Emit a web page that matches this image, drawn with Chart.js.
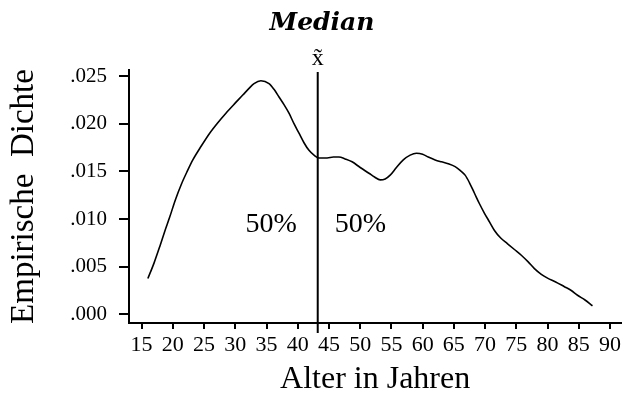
<!DOCTYPE html>
<html>
<head>
<meta charset="utf-8">
<script src="https://cdn.jsdelivr.net/npm/chart.js@4.4.1/dist/chart.umd.min.js"></script>
<style>
    html, body { margin: 0; padding: 0; background: #fff; }
</style>
</head>
<body>
<canvas id="chart" width="624" height="401"></canvas>
<script>
// Kernel density of age
const ages = [16.0, 17.0, 17.9, 18.7, 19.5, 20.4, 21.4, 22.3, 23.2, 24.5, 25.9, 27.2, 28.5, 29.9,
    31.2, 32.2, 33.0, 34.1, 35.4, 36.2, 37.0, 37.8, 38.6, 39.4, 40.2, 41.0, 41.8, 42.6, 43.4,
    44.7, 45.7, 46.6, 47.6, 48.7, 50.0, 51.4, 52.3, 53.2, 54.0, 54.8, 55.8, 56.9, 58.0, 59.0,
    60.0, 60.9, 62.0, 63.0, 64.1, 65.2, 66.0, 66.8, 67.5, 68.3, 69.1, 69.9, 70.7, 71.5, 72.5,
    73.6, 74.7, 75.8, 76.9, 77.9, 79.0, 80.0, 81.3, 82.7, 83.8, 84.8, 86.0, 87.2];
const density = [0.00375, 0.0054, 0.0071, 0.0087, 0.0102, 0.0120, 0.0137, 0.0150, 0.0162, 0.0176,
    0.0190, 0.0201, 0.0211, 0.0221, 0.0230, 0.0237, 0.0242, 0.0245, 0.0242, 0.0236, 0.0228,
    0.0220, 0.0211, 0.0200, 0.0190, 0.0180, 0.0172, 0.0167, 0.0164, 0.0164, 0.0165, 0.0165,
    0.0163, 0.0160, 0.0154, 0.0148, 0.0144, 0.0141, 0.0142, 0.0146, 0.0154, 0.0162, 0.0167,
    0.0169, 0.0168, 0.0165, 0.0162, 0.0160, 0.0158, 0.0155, 0.0151, 0.0146, 0.0138, 0.0127,
    0.0116, 0.0106, 0.0097, 0.0088, 0.0080, 0.0074, 0.0068, 0.0062, 0.0055, 0.0048, 0.0042,
    0.0038, 0.0034, 0.0029, 0.0025, 0.0020, 0.0015, 0.0009];

const xTicks = [15, 20, 25, 30, 35, 40, 45, 50, 55, 60, 65, 70, 75, 80, 85, 90];
const yTicks = [0, 0.005, 0.010, 0.015, 0.020, 0.025];
const yTickLabels = ['.000', '.005', '.010', '.015', '.020', '.025'];

const medianAge = 43.2;
const medianLabel = 'x\u0303';
const shareLabels = ['50%', '50%'];
const chartTitle = 'Median';

Chart.defaults.font.family = '"Liberation Serif", serif';
Chart.defaults.color = '#000';

// draws the median line, its labels and the title
const medianPlugin = {
    id: 'medianPlugin',
    afterDatasetsDraw(chart) {
        const { ctx, chartArea, scales } = chart;
        const mx = scales.x.getPixelForValue(medianAge);
        ctx.save();
        ctx.strokeStyle = '#000';
        ctx.lineWidth = 2;
        ctx.beginPath();
        ctx.moveTo(mx, chartArea.top + 2);
        ctx.lineTo(mx, chartArea.bottom + 10);
        ctx.stroke();

        ctx.fillStyle = '#000';
        ctx.textAlign = 'center';
        ctx.textBaseline = 'alphabetic';
        ctx.font = '24px "Liberation Serif"';
        ctx.fillText(medianLabel, mx, chartArea.top - 5);

        const ly = scales.y.getPixelForValue(0.0094);
        ctx.font = '28px "Liberation Serif"';
        ctx.textBaseline = 'middle';
        ctx.textAlign = 'right';
        ctx.fillText(shareLabels[0], mx - 21, ly);
        ctx.textAlign = 'left';
        ctx.fillText(shareLabels[1], mx + 17, ly);

        ctx.font = 'italic bold 25px "DejaVu Serif"';
        ctx.textAlign = 'center';
        ctx.textBaseline = 'alphabetic';
        ctx.fillText(chartTitle, 322, 30);
        ctx.restore();
    }
};

new Chart(document.getElementById('chart'), {
    type: 'line',
    data: {
        datasets: [{
            data: ages.map((a, i) => ({ x: a, y: density[i] })),
            borderColor: '#000',
            borderWidth: 1.6,
            pointRadius: 0,
            fill: false,
            cubicInterpolationMode: 'monotone',
        }],
    },
    options: {
        responsive: false,
        animation: false,
        layout: { padding: { top: 70, left: 0, right: 0, bottom: 0 } },
        plugins: {
            legend: { display: false },
            tooltip: { enabled: false },
        },
        scales: {
            x: {
                type: 'linear',
                min: 12.98,
                max: 91.8,
                afterBuildTicks: (scale) => { scale.ticks = xTicks.map(v => ({ value: v })); },
                afterFit: (scale) => { scale.height = 78; },
                ticks: {
                    font: { size: 22 },
                    padding: 3,
                    maxRotation: 0,
                    autoSkip: false,
                },
                grid: { drawOnChartArea: false, tickLength: 6, color: '#000', lineWidth: 2 },
                border: { color: '#000', width: 2 },
                title: {
                    display: true,
                    text: 'Alter in Jahren',
                    font: { size: 32 },
                    padding: { top: 0, bottom: 2 },
                },
            },
            y: {
                min: -0.00091,
                max: 0.02563,
                afterBuildTicks: (scale) => { scale.ticks = yTicks.map(v => ({ value: v })); },
                afterFit: (scale) => { scale.width = 129; },
                ticks: {
                    font: { size: 21 },
                    padding: 12,
                    callback: (value) => yTickLabels[yTicks.indexOf(value)],
                },
                grid: { drawOnChartArea: false, tickLength: 10, color: '#000', lineWidth: 2 },
                border: { color: '#000', width: 2 },
                title: {
                    display: true,
                    text: 'Empirische  Dichte',
                    font: { size: 33 },
                    padding: { top: 5, bottom: 0 },
                },
            },
        },
    },
    plugins: [medianPlugin],
});
</script>
</body>
</html>
